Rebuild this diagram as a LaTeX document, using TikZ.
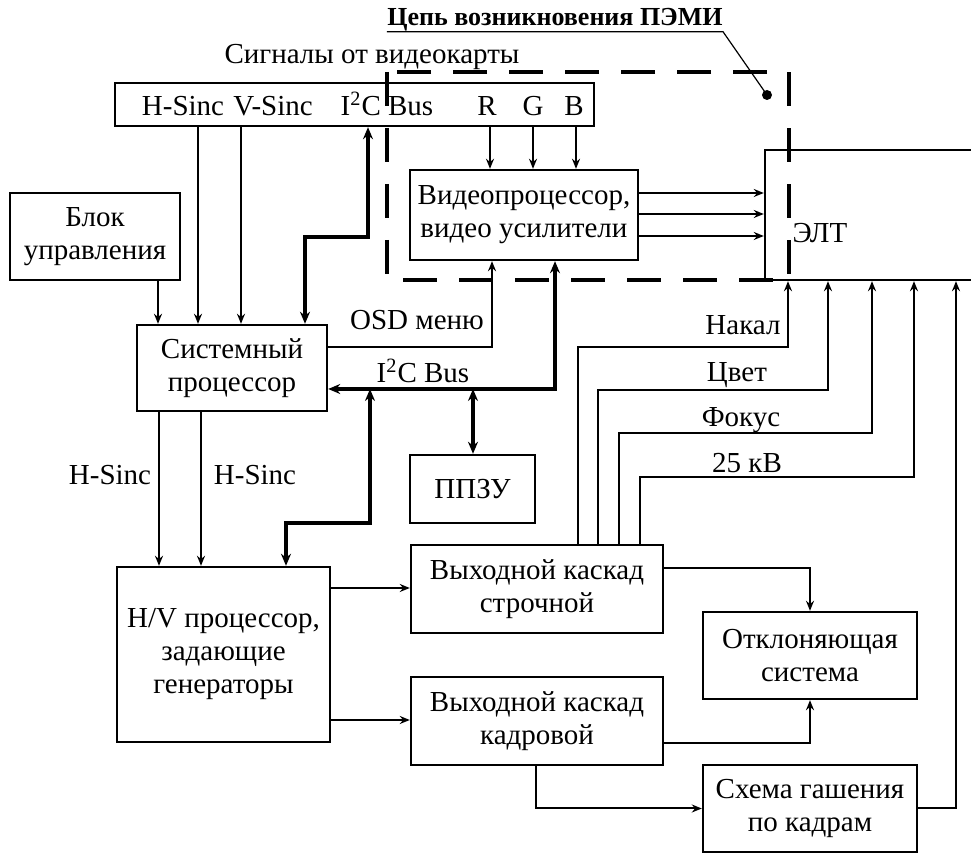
\documentclass[tikz,border=0pt]{standalone}
\usepackage{fontspec}
\setmainfont{Liberation Serif}
\usetikzlibrary{arrows.meta}
\begin{document}
\begin{tikzpicture}[x=0.5pt,y=-0.5pt,
  box/.style={draw,line width=1.2pt,inner sep=0pt,align=center,font=\fontsize{14.5}{16.5}\selectfont},
  lbl/.style={inner sep=0pt,font=\fontsize{14.5}{16.5}\selectfont},
  wire/.style={line width=1pt},
  arr/.style={wire,-{Stealth[length=5pt,width=4pt]}},
  bus/.style={line width=2.4pt},
  busarr/.style={bus,{Stealth[length=6pt,width=5pt]}-{Stealth[length=6pt,width=5pt]}},
  pemiline/.style={line width=2.3pt,dash pattern=on 17pt off 11pt}
]
\useasboundingbox (0,0) rectangle (971,854);

% titles
\node[lbl,font=\bfseries\fontsize{13}{15}\selectfont] (pemi) at (555,20) {Цепь возникновения ПЭМИ};
\node[lbl] (sigt) at (372,57) {Сигналы от видеокарты};

% boxes
\node[box,minimum width=239.5pt,minimum height=21.5pt] (top) at (354.5,104.5) {};
\node[lbl,anchor=base] (ths) at (183,116) {H-Sinc};
\node[lbl,anchor=base] (tvs) at (273,116) {V-Sinc};
\node[lbl,anchor=base] (tic) at (387,116) {I\textsuperscript{2}C Bus};
\node[lbl,anchor=base] (tr) at (487,116) {R};
\node[lbl,anchor=base] (tg) at (533,116) {G};
\node[lbl,anchor=base] (tb) at (574,116) {B};

\node[box,minimum width=85pt,minimum height=43.5pt] (blok) at (95,236.5) {Блок\\управления};
\node[box,minimum width=95pt,minimum height=43pt] (sp) at (232,368) {Системный\\процессор};
\node[box,minimum width=114pt,minimum height=45pt] (vp) at (524,215) {Видеопроцессор,\\видео усилители};
\node[box,minimum width=117.5pt,minimum height=65pt] (elt) at (882.5,215) {};
\node[lbl] (eltl) at (820,233) {ЭЛТ};
\node[box,minimum width=62.5pt,minimum height=34pt] (ppzu) at (472.5,489) {ППЗУ};
\node[box,minimum width=106.5pt,minimum height=87.5pt] (hv) at (223.5,654.5) {H/V процессор,\\задающие\\генераторы};
\node[box,minimum width=126pt,minimum height=44pt] (str) at (537,589) {Выходной каскад\\строчной};
\node[box,minimum width=126pt,minimum height=44pt] (kad) at (537,721) {Выходной каскад\\кадровой};
\node[box,minimum width=107pt,minimum height=43.5pt] (otk) at (810,655.5) {Отклоняющая\\система};
\node[box,minimum width=107pt,minimum height=43.5pt] (sg) at (810,808.5) {Схема гашения\\по кадрам};

% signals from video card
\draw[arr] (top.south -| 198,0) -- (sp.north -| 198,0);
\draw[arr] (top.south -| 241,0) -- (sp.north -| 241,0);
\draw[arr] (blok.south -| 158,0) -- (sp.north -| 158,0);
\draw[busarr] (top.south -| 368,0) -- (368,237) -- (305,237) -- (sp.north -| 305,0);
\draw[arr] (top.south -| 490,0) -- (vp.north -| 490,0);
\draw[arr] (top.south -| 533,0) -- (vp.north -| 533,0);
\draw[arr] (top.south -| 576,0) -- (vp.north -| 576,0);

% video processor to CRT
\draw[arr] (vp.east |- 0,193) -- (elt.west |- 0,193);
\draw[arr] (vp.east |- 0,214) -- (elt.west |- 0,214);
\draw[arr] (vp.east |- 0,236) -- (elt.west |- 0,236);

% OSD and I2C
\draw[arr] (sp.east |- 0,347) -- (492,347) -- (vp.south -| 492,0);
\node[lbl] (osd) at (417,320) {OSD меню};
\draw[busarr] (sp.east |- 0,389) -- (555,389) -- (vp.south -| 555,0);
\node[lbl] (i2c) at (423,371) {I\textsuperscript{2}C Bus};
\coordinate (jp) at (473,389);
\coordinate (jh) at (370,389);
\draw[busarr] (jp) -- (ppzu.north -| 473,0);
\draw[busarr] (jh) -- (370,523) -- (286,523) -- (hv.north -| 286,0);

% system processor to H/V
\draw[arr] (sp.south -| 159,0) -- (hv.north -| 159,0);
\draw[arr] (sp.south -| 201,0) -- (hv.north -| 201,0);
\node[lbl] (hs1) at (110,475) {H-Sinc};
\node[lbl] (hs2) at (255,475) {H-Sinc};

% H/V to output stages
\draw[arr] (hv.east |- 0,588) -- (str.west |- 0,588);
\draw[arr] (hv.east |- 0,720) -- (kad.west |- 0,720);
\draw[arr] (str.east |- 0,568) -| (otk.north);
\draw[arr] (kad.east |- 0,743) -| (otk.south);
\draw[arr] (kad.south -| 536,0) |- (sg.west);
\draw[arr] (sg.east) -| (elt.south -| 956,0);

% line stage to CRT
\draw[arr] (str.north -| 578,0) |- (788,347) -- (elt.south -| 788,0);
\draw[arr] (str.north -| 598,0) |- (828,390) -- (elt.south -| 828,0);
\draw[arr] (str.north -| 619,0) |- (872,433) -- (elt.south -| 872,0);
\draw[arr] (str.north -| 640,0) |- (914,477) -- (elt.south -| 914,0);
\node[lbl] (nak) at (743,325) {Накал};
\node[lbl] (cvet) at (737,375) {Цвет};
\node[lbl] (fok) at (741,420) {Фокус};
\node[lbl] (kv) at (747,463) {25 кВ};

% PEMI region
\draw[pemiline] (387,72) rectangle (789,280);
\coordinate (dot) at (767,95);
\fill (dot) circle (2.5pt);
\draw[line width=0.6pt] (pemi.south west) -- (pemi.south east) -- (dot);
\end{tikzpicture}
\end{document}
